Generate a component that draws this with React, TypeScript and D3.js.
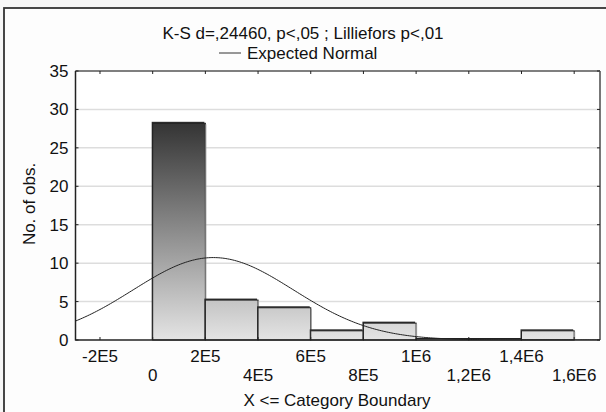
import React from 'react';
import * as d3 from 'd3';

const binWidth = 2e5;
const binStarts = [0, 2e5, 4e5, 6e5, 8e5, 1e6, 1.2e6, 1.4e6];
const counts = [28, 5, 4, 1, 2, 0, 0, 1];
const xTicksRow1 = [-2e5, 2e5, 6e5, 1e6, 1.4e6];
const xLabelsRow1 = ['-2E5', '2E5', '6E5', '1E6', '1,4E6'];
const xTicksRow2 = [0, 4e5, 8e5, 1.2e6, 1.6e6];
const xLabelsRow2 = ['0', '4E5', '8E5', '1,2E6', '1,6E6'];
const yTicks = [0, 5, 10, 15, 20, 25, 30, 35];
const yLabels = ['0', '5', '10', '15', '20', '25', '30', '35'];
const normalMean = 2.3e5;
const normalSd = 3.05e5;
const nObs = 41;
const titleText = 'K-S d=,24460, p<,05 ; Lilliefors p<,01';
const legendText = 'Expected Normal';
const xTitle = 'X <= Category Boundary';
const yTitle = 'No. of obs.';

const W = 606;
const H = 412;
const M = { left: 75.5, right: 600, top: 71, bottom: 340 };
const FONT = '"Liberation Sans", Arial, sans-serif';
const FS = 17;

export default function App() {
  const x = d3.scaleLinear().domain([-2.93e5, 1.698e6]).range([M.left, M.right]);
  const y = d3.scaleLinear().domain([0, 35]).range([M.bottom, M.top]);
  const allTicks = [...xTicksRow1, ...xTicksRow2].sort((a, b) => a - b);

  const dom = x.domain();
  const samples = d3.range(0, 301).map((i) => dom[0] + ((dom[1] - dom[0]) * i) / 300);
  const pdf = (v: number) =>
    (nObs * binWidth) / (normalSd * Math.sqrt(2 * Math.PI)) *
    Math.exp(-0.5 * ((v - normalMean) / normalSd) ** 2);
  const line = d3.line<number>().x((v) => x(v)).y((v) => y(pdf(v))).curve(d3.curveLinear);

  return (
    <svg width={W} height={H} style={{ position: 'fixed', left: 0, top: 0 }} fontFamily={FONT}>
      <defs>
        <linearGradient id="barGrad" gradientUnits="userSpaceOnUse" x1="0" y1="122" x2="0" y2="340">
          <stop offset="0" stopColor="#333333" />
          <stop offset="1" stopColor="#e4e4e4" />
        </linearGradient>
        <clipPath id="plotClip">
          <rect x={M.left} y={M.top} width={M.right - M.left} height={M.bottom - M.top} />
        </clipPath>
      </defs>
      <rect x={0} y={0} width={W} height={H} fill="#f6f6f6" />
      <rect x={4} y={8} width={W + 10} height={H + 10} fill="#fdfdfd" stroke="#333" strokeWidth={1.8} />

      <text x={303} y={39} textAnchor="middle" fontSize={FS} fill="#111">{titleText}</text>
      <line x1={219} x2={241} y1={53} y2={53} stroke="#333" strokeWidth={1} />
      <text x={247} y={59} fontSize={FS} fill="#111">{legendText}</text>

      {/* plot background */}
      <rect x={M.left} y={M.top} width={M.right - M.left} height={M.bottom - M.top} fill="#fff" />
      {/* gridlines */}
      {yTicks.filter((t) => t > 0 && t < 35).map((t) => (
        <line key={'g' + t} x1={M.left} x2={M.right} y1={y(t)} y2={y(t)} stroke="#dddddd" strokeWidth={1.5} />
      ))}

      {/* bars */}
      {counts.map((c, i) => {
        const x0 = x(binStarts[i]);
        const x1 = x(binStarts[i] + binWidth);
        const top = y(c) - 1.5;
        return (
          <g key={'b' + i}>
            {c > 0 && (
              <rect x={x0 - 1} y={top - 1.5} width={x1 - x0} height={M.bottom - top + 1.5} fill="#2e2e2e" />
            )}
            <rect x={x0} y={top} width={x1 - x0} height={M.bottom - top} fill="url(#barGrad)" stroke="#222" strokeWidth={1} />
            {c > 0 && (
              <line x1={x1 + 0.5} x2={x1 + 0.5} y1={top + 1} y2={M.bottom} stroke="#999" strokeWidth={1} />
            )}
          </g>
        );
      })}

      {/* normal curve */}
      <path d={line(samples) || ''} fill="none" stroke="#222" strokeWidth={1} clipPath="url(#plotClip)" />

      {/* frame of plot */}
      <line x1={M.left} x2={M.right} y1={M.top} y2={M.top} stroke="#555" strokeWidth={1.5} />
      <line x1={M.right} x2={M.right} y1={M.top} y2={M.bottom} stroke="#777" strokeWidth={2} />
      <line x1={M.left} x2={M.left} y1={M.top} y2={M.bottom + 0.5} stroke="#222" strokeWidth={1.5} />
      <line x1={M.left} x2={M.right} y1={M.bottom} y2={M.bottom} stroke="#222" strokeWidth={1.5} />

      {/* ticks */}
      {allTicks.map((t) => (
        <g key={'xt' + t}>
          <line x1={x(t)} x2={x(t)} y1={M.bottom} y2={M.bottom - 3} stroke="#222" strokeWidth={1} />
          <line x1={x(t)} x2={x(t)} y1={M.top} y2={M.top + 3} stroke="#222" strokeWidth={1} />
        </g>
      ))}
      {yTicks.map((t) => (
        <g key={'yt' + t}>
          <line x1={M.left} x2={M.left + 3} y1={y(t)} y2={y(t)} stroke="#222" strokeWidth={1} />
          <line x1={M.right - 3} x2={M.right} y1={y(t)} y2={y(t)} stroke="#222" strokeWidth={1} />
        </g>
      ))}

      {/* tick labels */}
      {yTicks.map((t, i) => (
        <text key={'yl' + t} x={68.5} y={y(t) + 6} textAnchor="end" fontSize={FS} fill="#111">{yLabels[i]}</text>
      ))}
      {xTicksRow1.map((t, i) => (
        <text key={'x1' + t} x={x(t)} y={362} textAnchor="middle" fontSize={FS} fill="#111">{xLabelsRow1[i]}</text>
      ))}
      {xTicksRow2.map((t, i) => (
        <text key={'x2' + t} x={x(t)} y={381} textAnchor="middle" fontSize={FS} fill="#111">{xLabelsRow2[i]}</text>
      ))}

      <text x={337} y={406} textAnchor="middle" fontSize={FS} fill="#111">{xTitle}</text>
      <text transform={`translate(35, 204) rotate(-90)`} textAnchor="middle" fontSize={FS} fill="#111">{yTitle}</text>
    </svg>
  );
}
